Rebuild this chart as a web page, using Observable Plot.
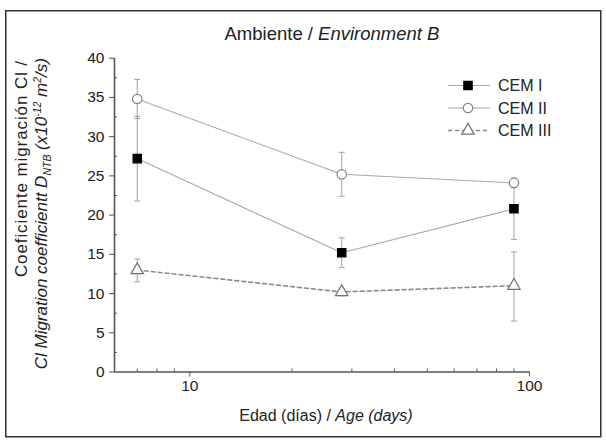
<!DOCTYPE html>
<html>
<head>
<meta charset="utf-8">
<script src="https://cdn.jsdelivr.net/npm/d3@7"></script>
<script src="https://cdn.jsdelivr.net/npm/@observablehq/plot@0.6"></script>
<style>
  html, body { margin: 0; padding: 0; background: #fff; }
  #wrap { position: relative; width: 606px; height: 441px; font-family: "Liberation Sans", Arial, sans-serif; }
  #wrap > svg { position: absolute; left: 0; top: 0; }
  #overlay { pointer-events: none; }
</style>
</head>
<body>
<div id="wrap"></div>
<script>
// ---- data ----
const series = ["CEM I", "CEM II", "CEM III"];
const ages = [7, 28, 90];
const cem1 = [27.2, 15.2, 20.8];
const cem1Lo = [21.8, 13.3, 16.9];
const cem1Hi = [32.6, 17.1, 24.7];
const cem2 = [34.8, 25.2, 24.1];
const cem2Lo = [32.3, 22.4, 23.5];
const cem2Hi = [37.3, 28.0, 24.7];
const cem3 = [13.0, 10.2, 11.0];
const cem3Lo = [11.5, 9.7, 6.5];
const cem3Hi = [14.4, 10.6, 15.3];
const xDomain = [6, 100];
const yDomain = [0, 40];
const xTicks = [10, 100];
const xMinor = [7, 8, 9, 20, 30, 40, 50, 60, 70, 80, 90];
const yTicks = [0, 5, 10, 15, 20, 25, 30, 35, 40];
const yMinor = [2.5, 7.5, 12.5, 17.5, 22.5, 27.5, 32.5, 37.5];

const values = {"CEM I": [cem1, cem1Lo, cem1Hi], "CEM II": [cem2, cem2Lo, cem2Hi], "CEM III": [cem3, cem3Lo, cem3Hi]};
const rows = series.flatMap(s => ages.map((a, i) => ({series: s, age: a, v: values[s][0][i], lo: values[s][1][i], hi: values[s][2][i]})));
const caps = rows.flatMap(d => [{series: d.series, age: d.age, v: d.lo}, {series: d.series, age: d.age, v: d.hi}]);

// ---- styles ----
const FONT = "Liberation Sans, Arial, sans-serif";
const style = {
  "CEM I":   {symbol: "square",   fill: "#000", stroke: "#000", r: 4.7, line: "#a8a8a8", dash: null, lw: 1.1},
  "CEM II":  {symbol: "circle",   fill: "#fff", stroke: "#808080", r: 4.7, line: "#a8a8a8", dash: null, lw: 1.1},
  "CEM III": {symbol: "triangle", fill: "#fff", stroke: "#707070", r: 4.6, line: "#8a8a8a", dash: "4,3", lw: 1.6}
};
const capSymbol = {draw(ctx, size) { const w = Math.sqrt(size / Math.PI); ctx.moveTo(-w, 0); ctx.lineTo(w, 0); }};

const W = 606, H = 441;
const plot = Plot.plot({
  width: W, height: H,
  marginLeft: 114, marginRight: 77, marginTop: 57.7, marginBottom: 69.5,
  style: {fontFamily: FONT, fontSize: "15.5px", color: "#222", background: "transparent"},
  x: {type: "log", domain: xDomain, label: null},
  y: {domain: yDomain, label: null},
  marks: [
    // error bars
    Plot.ruleX(rows, {x: "age", y1: "lo", y2: "hi", stroke: "#a0a0a0", strokeWidth: 1}),
    Plot.dot(caps, {x: "age", y: "v", symbol: capSymbol, r: 3, stroke: "#a0a0a0", strokeWidth: 1, fill: "none"}),
    // lines
    ...series.map(s => Plot.line(rows.filter(d => d.series === s), {x: "age", y: "v", stroke: style[s].line, strokeWidth: style[s].lw, strokeDasharray: style[s].dash})),
    // markers
    ...series.map(s => Plot.dot(rows.filter(d => d.series === s), {x: "age", y: "v", symbol: style[s].symbol, r: style[s].r, fill: style[s].fill, stroke: style[s].stroke, strokeWidth: 1.2})),
    // axes
    Plot.axisY({ticks: yMinor, tickSize: 3, dx: 3, text: null, stroke: "#555"}),
    Plot.axisX({ticks: xMinor, tickSize: 3, dy: -3, text: null, stroke: "#555"}),
    Plot.axisY({ticks: yTicks, tickSize: 5, tickPadding: 5, fontSize: 15.5, stroke: "#555", fill: "#222"}),
    Plot.axisX({ticks: xTicks, tickSize: 5, tickPadding: 3, fontSize: 15.5, tickFormat: d => String(d), stroke: "#555", fill: "#222"}),
    Plot.ruleX([xDomain[0]], {y1: yDomain[0], y2: yDomain[1], stroke: "#555", strokeWidth: 1.6}),
    Plot.ruleY([yDomain[0]], {x1: xDomain[0], x2: xDomain[1], stroke: "#555", strokeWidth: 1.6})
  ]
});
document.getElementById("wrap").appendChild(plot);

// ---- overlay: frame, titles, legend ----
const svg = d3.select("#wrap").append("svg").attr("id", "overlay").attr("width", W).attr("height", H)
  .style("font-family", FONT);

svg.append("rect").attr("x", 5.75).attr("y", 10.75).attr("width", 595).attr("height", 426)
  .attr("fill", "none").attr("stroke", "#333").attr("stroke-width", 1.5);

const title = svg.append("text").attr("x", 332).attr("y", 40).attr("text-anchor", "middle")
  .attr("font-size", 18.5).attr("fill", "#222");
title.append("tspan").text("Ambiente / ");
title.append("tspan").attr("font-style", "italic").text("Environment B");

const xl = svg.append("text").attr("x", 326).attr("y", 421).attr("text-anchor", "middle")
  .attr("font-size", 16).attr("fill", "#222");
xl.append("tspan").text("Edad (días) / ");
xl.append("tspan").attr("font-style", "italic").text("Age (days)");

const yl1 = svg.append("text").attr("transform", "translate(27,60) rotate(-90)").attr("text-anchor", "end")
  .attr("font-size", 17).attr("letter-spacing", 0.9).attr("fill", "#222").text("Coeficiente migración Cl /");

const yl2 = svg.append("text").attr("transform", "translate(47,58) rotate(-90)").attr("text-anchor", "end")
  .attr("font-size", 17).attr("fill", "#222").attr("font-style", "italic");
yl2.append("tspan").text("Cl Migration coefficientt D");
yl2.append("tspan").attr("font-size", 10.5).attr("dy", 4).text("NTB");
yl2.append("tspan").attr("dy", -4).text(" (x10");
yl2.append("tspan").attr("font-size", 10.5).attr("dy", -6).text("-12");
yl2.append("tspan").attr("dy", 6).text(" m");
yl2.append("tspan").attr("font-size", 10.5).attr("dy", -6).text("2");
yl2.append("tspan").attr("dy", 6).text("/s)");

// legend
const leg = svg.append("g");
series.forEach((s, i) => {
  const y = 85.5 + i * 22.5;
  const st = style[s];
  leg.append("line").attr("x1", 448).attr("x2", 490).attr("y1", y).attr("y2", y)
    .attr("stroke", st.line).attr("stroke-width", st.lw).attr("stroke-dasharray", st.dash);
  const sym = {square: d3.symbolSquare, circle: d3.symbolCircle, triangle: d3.symbolTriangle}[st.symbol];
  leg.append("path").attr("transform", `translate(468,${y})`)
    .attr("d", d3.symbol(sym, st.r * st.r * Math.PI)())
    .attr("fill", st.fill).attr("stroke", st.stroke).attr("stroke-width", 1.2);
  leg.append("text").attr("x", 498).attr("y", y).attr("dy", "0.35em")
    .attr("font-size", 16).attr("fill", "#222").text(s);
});
</script>
</body>
</html>
